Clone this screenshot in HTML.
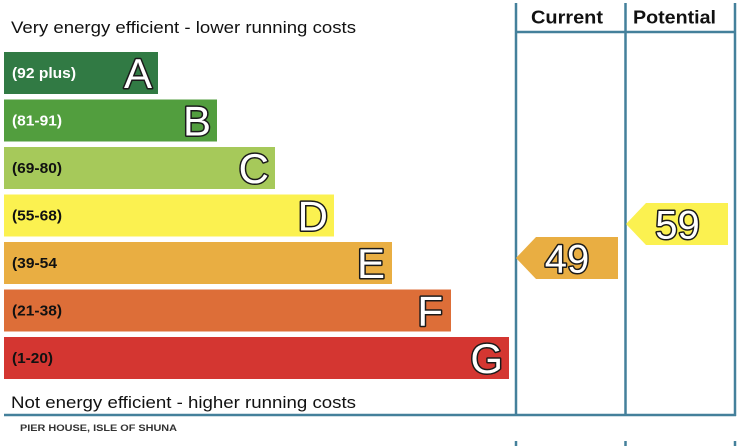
<!DOCTYPE html>
<html><head><meta charset="utf-8"><style>
html,body{margin:0;padding:0;background:#fff;}
svg{display:block;}
text{font-family:"Liberation Sans",Arial,sans-serif;}
</style></head><body>
<svg width="746" height="446" viewBox="0 0 746 446" xmlns="http://www.w3.org/2000/svg">
<rect width="746" height="446" fill="#fff"/>
<text x="11" y="33" font-size="17" fill="#111" textLength="345" lengthAdjust="spacingAndGlyphs">Very energy efficient - lower running costs</text>

<rect x="4" y="52" width="154" height="42" fill="#317a44"/>
<rect x="4" y="99.5" width="213" height="42" fill="#529e3e"/>
<rect x="4" y="147" width="271" height="42" fill="#a6c95a"/>
<rect x="4" y="194.5" width="330" height="42" fill="#fbf150"/>
<rect x="4" y="242" width="388" height="42" fill="#e9ae42"/>
<rect x="4" y="289.5" width="447" height="42" fill="#dd6e38"/>
<rect x="4" y="337" width="505" height="42" fill="#d43631"/>

<g font-weight="bold" font-size="14.5">
<text x="12" y="78" fill="#fff" textLength="64" lengthAdjust="spacingAndGlyphs">(92 plus)</text>
<text x="12" y="125.5" fill="#fff" textLength="50" lengthAdjust="spacingAndGlyphs">(81-91)</text>
<text x="12" y="173" fill="#111" textLength="50" lengthAdjust="spacingAndGlyphs">(69-80)</text>
<text x="12" y="220.5" fill="#111" textLength="50" lengthAdjust="spacingAndGlyphs">(55-68)</text>
<text x="12" y="268" fill="#111" textLength="45" lengthAdjust="spacingAndGlyphs">(39-54</text>
<text x="12" y="315.5" fill="#111" textLength="50" lengthAdjust="spacingAndGlyphs">(21-38)</text>
<text x="12" y="363" fill="#111" textLength="41" lengthAdjust="spacingAndGlyphs">(1-20)</text>
</g>

<g font-size="42" fill="#fff" stroke="#1a1a1a" stroke-width="3" stroke-linejoin="round" paint-order="stroke" text-anchor="end">
<text x="152" y="88">A</text>
<text x="211" y="135.5">B</text>
<text x="269" y="183">C</text>
<text x="328" y="230.5">D</text>
<text x="385" y="278">E</text>
<text x="443" y="325.5">F</text>
<text x="503" y="373">G</text>
</g>

<text x="11" y="408" font-size="17" fill="#111" textLength="345" lengthAdjust="spacingAndGlyphs">Not energy efficient - higher running costs</text>

<g stroke="#44809b" stroke-width="2.5" fill="none">
<line x1="516" y1="3" x2="516" y2="416"/>
<line x1="625.5" y1="3" x2="625.5" y2="416"/>
<line x1="735" y1="3" x2="735" y2="416"/>
<line x1="516" y1="32" x2="735" y2="32"/>
<line x1="4" y1="415" x2="736" y2="415"/>
<line x1="516" y1="441" x2="516" y2="446"/>
<line x1="625.5" y1="441" x2="625.5" y2="446"/>
<line x1="735" y1="441" x2="735" y2="446"/>
</g>

<text x="531" y="23.5" font-size="18.5" font-weight="bold" fill="#111" textLength="72" lengthAdjust="spacingAndGlyphs">Current</text>
<text x="633" y="23.5" font-size="18.5" font-weight="bold" fill="#111" textLength="83" lengthAdjust="spacingAndGlyphs">Potential</text>

<polygon points="516,258 536,237 618,237 618,279 536,279" fill="#e9ae42"/>
<polygon points="626,224 646,203 728,203 728,245 646,245" fill="#fbf150"/>
<g font-size="40" fill="#fff" stroke="#1a1a1a" stroke-width="3" stroke-linejoin="round" paint-order="stroke" text-anchor="middle">
<text x="567" y="272.5">49</text>
<text x="677.5" y="238.5">59</text>
</g>

<text x="20" y="431" font-size="9.5" font-weight="bold" fill="#333" textLength="157" lengthAdjust="spacingAndGlyphs">PIER HOUSE, ISLE OF SHUNA</text>
</svg>
</body></html>
